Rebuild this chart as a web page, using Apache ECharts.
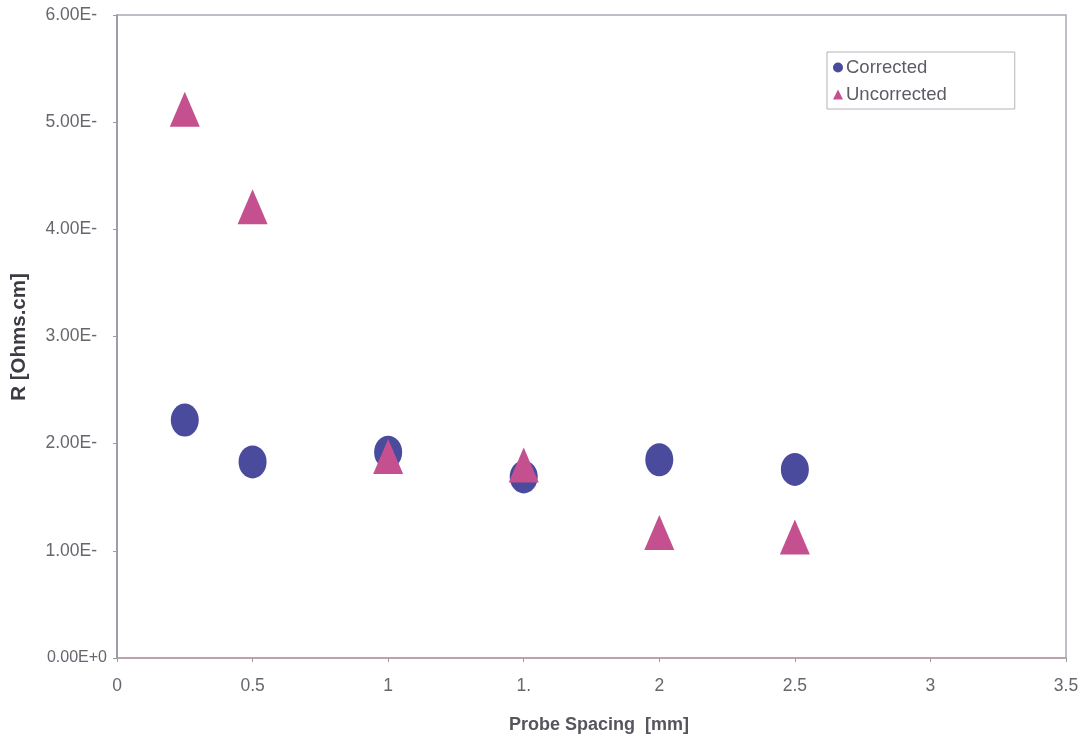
<!DOCTYPE html>
<html>
<head>
<meta charset="utf-8">
<script src="https://cdn.jsdelivr.net/npm/echarts@6/dist/echarts.min.js"></script>
<style>
  html, body { margin: 0; padding: 0; background: #fff; }
  #chart { width: 1090px; height: 739px; }
</style>
</head>
<body>
<div id="chart"></div>
<script>
// data
const spacing = [0.25, 0.5, 1, 1.5, 2, 2.5];
const corrected = [2.22, 1.83, 1.92, 1.69, 1.85, 1.76];
const uncorrected = [5.12, 4.21, 1.88, 1.80, 1.17, 1.13];
const xTickLabels = ['0', '0.5', '1', '1.', '2', '2.5', '3', '3.5'];
const yTickLabels = ['0.00E+0', '1.00E-', '2.00E-', '3.00E-', '4.00E-', '5.00E-', '6.00E-'];

const chart = echarts.init(document.getElementById('chart'));

const option = {
    animation: false,
    textStyle: { fontFamily: 'Liberation Sans, Arial, sans-serif' },
    grid: {
        left: 117,
        right: 24,
        top: 15,
        bottom: 81,
        show: true,
        borderColor: '#a9a9b6',
        borderWidth: 1.5
    },
    legend: {
        orient: 'vertical',
        left: 827,
        top: 52,
        padding: [6, 68, 5, 6],
        itemGap: 8,
        itemWidth: 10,
        itemHeight: 10,
        itemStyle: { borderWidth: 0, opacity: 1 },
        borderColor: '#b4b4bc',
        borderWidth: 1,
        backgroundColor: '#fff',
        textStyle: { fontSize: 18.5, color: '#5c5c66', padding: [0, 0, 0, -2] },
        data: [
            { name: 'Corrected', icon: 'circle' },
            { name: 'Uncorrected', icon: 'triangle' }
        ]
    },
    xAxis: {
        type: 'value',
        min: 0,
        max: 3.5,
        interval: 0.5,
        axisLine: { lineStyle: { color: '#c29ca0', width: 1.5 } },
        axisTick: { show: true, length: 4, lineStyle: { color: '#9a9aa6' } },
        splitLine: { show: false },
        axisLabel: {
            fontSize: 17.5,
            color: '#66666e',
            margin: 19,
            formatter: (v) => xTickLabels[Math.round(v / 0.5)]
        }
    },
    yAxis: {
        type: 'value',
        min: 0,
        max: 6,
        interval: 1,
        axisLine: { show: true, lineStyle: { color: '#8e90a0', width: 1.5 } },
        axisTick: { show: true, length: 4, lineStyle: { color: '#9a9aa6' } },
        splitLine: { show: false },
        axisLabel: {
            color: '#66666e',
            margin: 10,
            formatter: (v) => {
                const i = Math.round(v);
                return i === 0 ? '{z|' + yTickLabels[i] + '}' : '{p|' + yTickLabels[i] + '}';
            },
            rich: {
                z: { fontSize: 16, color: '#66666e' },
                p: { fontSize: 17.5, color: '#66666e', padding: [0, 10, 0, 0] }
            }
        }
    },
    graphic: [
        {
            type: 'text',
            left: 509,
            top: 716,
            style: {
                text: 'Probe Spacing  [mm]',
                font: 'bold 18px Liberation Sans, Arial, sans-serif',
                fill: '#55555e'
            }
        },
        {
            type: 'text',
            x: 19,
            y: 337,
            rotation: Math.PI / 2,
            style: {
                text: 'R [Ohms.cm]',
                font: 'bold 20.5px Liberation Sans, Arial, sans-serif',
                fill: '#3c3c44',
                align: 'center',
                verticalAlign: 'middle'
            }
        }
    ],
    series: [
        {
            name: 'Corrected',
            type: 'scatter',
            symbol: 'circle',
            symbolSize: [28, 33],
            itemStyle: { color: '#4a4b9c', opacity: 1 },
            data: spacing.map((x, i) => [x, corrected[i]])
        },
        {
            name: 'Uncorrected',
            type: 'scatter',
            symbol: 'triangle',
            symbolSize: [30, 35],
            itemStyle: { color: '#c4508f', opacity: 1 },
            data: spacing.map((x, i) => [x, uncorrected[i]])
        }
    ]
};

chart.setOption(option);
window.addEventListener('resize', () => chart.resize());
</script>
</body>
</html>
